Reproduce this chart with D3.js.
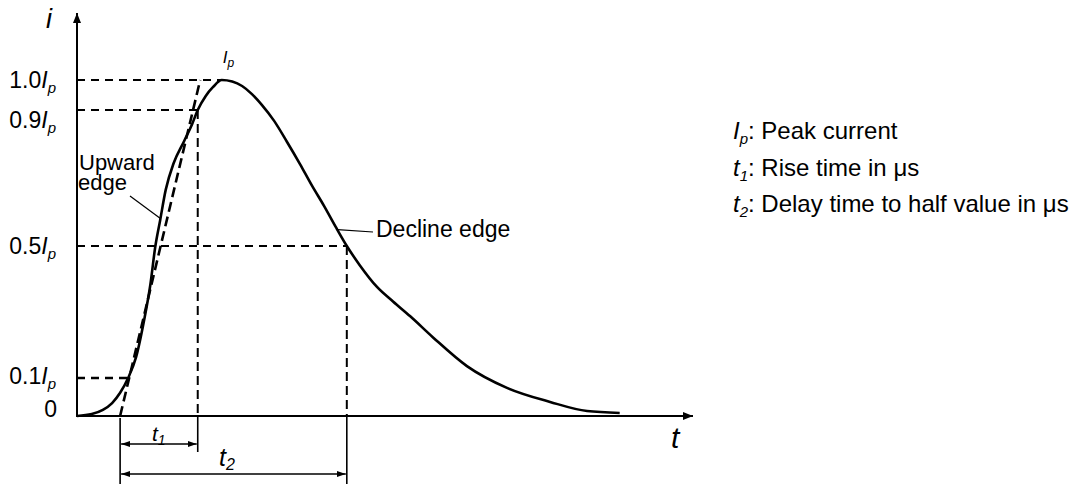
<!DOCTYPE html>
<html>
<head>
<meta charset="utf-8">
<script src="https://cdn.jsdelivr.net/npm/d3@7"></script>
<style>
body { margin: 0; background: #fff; }
text { font-family: "Liberation Sans", Arial, sans-serif; fill: #000; }
</style>
</head>
<body>
<svg id="chart"></svg>
<script>
// lightning current waveform, t in arbitrary units (0-100), i as a fraction of Ip
const curveT = [0, 2.4, 4.2, 5.7, 7.0, 8.3, 9.6, 10.9, 11.9, 12.7, 13.5, 14.4, 15.7, 17.4, 18.7, 19.6,
    20.9, 22.1, 23.5, 25.2, 26.8, 28.4, 30.0, 32.0, 34.1, 36.2, 38.1, 40.1, 42.0, 43.8,
    45.9, 48.7, 51.3, 54.1, 57.8, 63.3, 69.8, 76.8, 82.8, 88.1]
const curveI = [0, 0.005, 0.016, 0.034, 0.061, 0.10, 0.164, 0.276, 0.382, 0.497, 0.576, 0.665, 0.744, 0.809, 0.859, 0.9,
    0.947, 0.977, 1.0, 0.995, 0.98, 0.953, 0.917, 0.868, 0.806, 0.741, 0.679, 0.618, 0.556, 0.5,
    0.442, 0.376, 0.332, 0.287, 0.223, 0.136, 0.074, 0.037, 0.013, 0.008]

const levelValues = [0, 0.1, 0.5, 0.9, 1.0]
const levelLabels = ['0', '0.1', '0.5', '0.9', '1.0']
const levelCrossT = [null, 8.3, 43.8, 19.6, 23.5]   // where each guide meets the curve

const tangentT = [7.0, 20.0]
const tangentI = [0, 1.0]
const t1Span = [7.0, 19.6]
const t2Span = [7.0, 43.8]

const legendKeys = ['I', 't', 't']
const legendSubs = ['p', '1', '2']
const legendTexts = [': Peak current', ': Rise time in μs', ': Delay time to half value in μs']

const width = 1082
const height = 484

const svg = d3.select('#chart')
    .attr('width', width)
    .attr('height', height)

svg.append('rect').attr('width', width).attr('height', height).attr('fill', '#fff')

const defs = svg.append('defs')
defs.append('marker')
    .attr('id', 'axisArrow')
    .attr('viewBox', '0 0 10 8')
    .attr('refX', 10).attr('refY', 4)
    .attr('markerWidth', 10).attr('markerHeight', 8)
    .attr('markerUnits', 'userSpaceOnUse')
    .attr('orient', 'auto-start-reverse')
    .append('path').attr('d', 'M0,0L10,4L0,8Z').attr('fill', '#000')
defs.append('marker')
    .attr('id', 'dimArrow')
    .attr('viewBox', '0 0 9 6')
    .attr('refX', 9).attr('refY', 3)
    .attr('markerWidth', 9).attr('markerHeight', 6)
    .attr('markerUnits', 'userSpaceOnUse')
    .attr('orient', 'auto-start-reverse')
    .append('path').attr('d', 'M0,0L9,3L0,6Z').attr('fill', '#000')

const x = d3.scaleLinear().domain([0, 100]).range([77, 693])
// the guide levels are not evenly spaced in the drawing, so the scale is piecewise
const y = d3.scaleLinear().domain(levelValues).range([416, 378, 246, 110, 80])

const g = svg.append('g')

// guide lines
const dashed = '8,6'
levelValues.forEach((v, k) => {
    if (levelCrossT[k] == null) return
    g.append('line')
        .attr('x1', x(0)).attr('x2', x(levelCrossT[k]))
        .attr('y1', y(v)).attr('y2', y(v))
        .attr('stroke', '#000')
        .attr('stroke-width', v === 0.1 ? 2.6 : 1.8)
        .attr('stroke-dasharray', dashed)
})

// vertical drops at t1 end (0.9 Ip) and t2 end (0.5 Ip)
const drops = [[t1Span[1], 0.9, 452], [t2Span[1], 0.5, 484]]
drops.forEach(d => {
    g.append('line')
        .attr('x1', x(d[0])).attr('x2', x(d[0]))
        .attr('y1', y(d[1])).attr('y2', y(0))
        .attr('stroke', '#000').attr('stroke-width', 2)
        .attr('stroke-dasharray', '9,5')
    g.append('line')
        .attr('x1', x(d[0])).attr('x2', x(d[0]))
        .attr('y1', y(0)).attr('y2', d[2])
        .attr('stroke', '#000').attr('stroke-width', 1.6)
})
g.append('line')
    .attr('x1', x(t1Span[0])).attr('x2', x(t1Span[0]))
    .attr('y1', y(0) + 2).attr('y2', 484)
    .attr('stroke', '#000').attr('stroke-width', 1.6)

// tangent of the upward edge
const tangent = d3.line().x(d => x(d[0])).y(d => y(d[1]))
g.append('path')
    .datum(d3.zip(tangentT, tangentI))
    .attr('d', tangent)
    .attr('fill', 'none')
    .attr('stroke', '#000')
    .attr('stroke-width', 2.6)
    .attr('stroke-dasharray', '10,5')

// axes
g.append('line')
    .attr('x1', x(0)).attr('x2', x(0))
    .attr('y1', y(0) + 1).attr('y2', 13)
    .attr('stroke', '#000').attr('stroke-width', 2)
    .attr('marker-end', 'url(#axisArrow)')
g.append('line')
    .attr('x1', x(0) - 1).attr('x2', x(100))
    .attr('y1', y(0)).attr('y2', y(0))
    .attr('stroke', '#000').attr('stroke-width', 2)
    .attr('marker-end', 'url(#axisArrow)')

// the waveform
const line = d3.line()
    .x(d => x(d[0]))
    .y(d => y(d[1]))
    .curve(d3.curveMonotoneX)
g.append('path')
    .datum(d3.zip(curveT, curveI))
    .attr('d', line)
    .attr('fill', 'none')
    .attr('stroke', '#000')
    .attr('stroke-width', 2.6)

// level labels
const labelDy = [1, 6, 8, 18, 8]
levelValues.forEach((v, k) => {
    const t = g.append('text')
        .attr('x', k === 0 ? 57 : 56)
        .attr('y', y(v) + labelDy[k])
        .attr('text-anchor', 'end')
        .style('font-size', '23px')
    t.append('tspan').text(levelLabels[k])
    if (k > 0) {
        t.append('tspan').style('font-style', 'italic').text('I')
        t.append('tspan').style('font-style', 'italic').style('font-size', '15px').attr('dy', 5).text('p')
    }
})

// axis names
g.append('text').attr('x', 46).attr('y', 28)
    .style('font-size', '27px').style('font-style', 'italic').text('i')
g.append('text').attr('x', 671).attr('y', 448)
    .style('font-size', '30px').style('font-style', 'italic').text('t')

// peak marker
const pk = g.append('text').attr('x', x(23.5) + 1).attr('y', 63)
    .style('font-size', '17px').style('font-style', 'italic')
pk.append('tspan').text('I')
pk.append('tspan').style('font-size', '12px').attr('dy', 4).text('p')

// dimension arrows
const dims = [[t1Span, 444, '1', 152, 441, 21], [t2Span, 474, '2', 219, 466, 25]]
dims.forEach(d => {
    g.append('line')
        .attr('x1', x(d[0][0]) + 1).attr('x2', x(d[0][1]) - 1)
        .attr('y1', d[1]).attr('y2', d[1])
        .attr('stroke', '#000').attr('stroke-width', 1.6)
        .attr('marker-start', 'url(#dimArrow)')
        .attr('marker-end', 'url(#dimArrow)')
    const t = g.append('text').attr('x', d[3]).attr('y', d[4])
        .style('font-size', d[5] + 'px').style('font-style', 'italic')
    t.append('tspan').text('t')
    t.append('tspan').style('font-size', Math.round(d[5] * 0.65) + 'px').attr('dy', 4).text(d[2])
})

// edge annotations
const up = g.append('text').style('font-size', '22px')
up.append('tspan').attr('x', 79).attr('y', 170).text('Upward')
up.append('tspan').attr('x', 78).attr('y', 190).text('edge')
g.append('line').attr('x1', 130).attr('y1', 196).attr('x2', x(13.6)).attr('y2', y(0.58))
    .attr('stroke', '#000').attr('stroke-width', 1.2)

g.append('line').attr('x1', x(42.3)).attr('y1', y(0.548)).attr('x2', 373).attr('y2', 232)
    .attr('stroke', '#000').attr('stroke-width', 1.2)
g.append('text').attr('x', 376).attr('y', 237).style('font-size', '23px').text('Decline edge')

// legend
const legendY = [139, 176, 212]
legendKeys.forEach((k, n) => {
    const t = g.append('text').attr('x', 733).attr('y', legendY[n]).style('font-size', '24px')
    t.append('tspan').style('font-style', 'italic').text(k)
    t.append('tspan').style('font-style', 'italic').style('font-size', '15px').attr('dy', 5).text(legendSubs[n])
    t.append('tspan').attr('dy', -5).text(legendTexts[n])
})
</script>
</body>
</html>
